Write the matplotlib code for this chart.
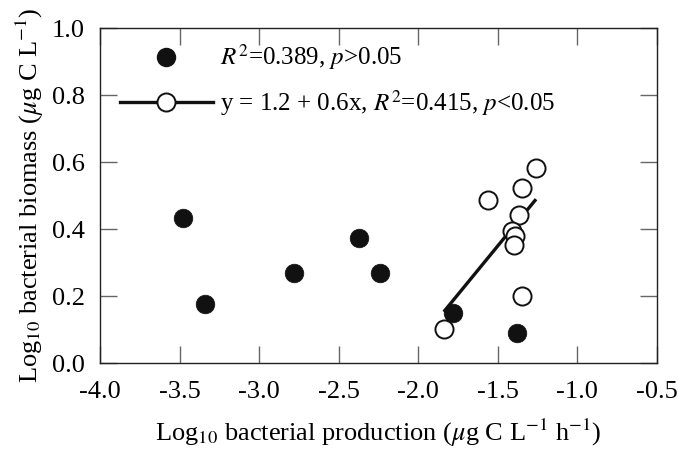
import numpy as np
import matplotlib
matplotlib.use("Agg")
import matplotlib.pyplot as plt
from matplotlib.lines import Line2D

plt.rcParams['font.family'] = ['Liberation Serif', 'DejaVu Serif']
plt.rcParams['mathtext.fontset'] = 'stix'

# filled circles (no significant relationship)
filled_x = [-3.48, -3.34, -2.78, -2.37, -2.24, -1.78, -1.38]
filled_y = [0.434, 0.177, 0.269, 0.372, 0.269, 0.148, 0.090]

# open circles (significant relationship)
open_x = [-1.26, -1.35, -1.56, -1.37, -1.41, -1.39, -1.40, -1.35, -1.84]
open_y = [0.583, 0.524, 0.487, 0.442, 0.395, 0.380, 0.352, 0.201, 0.101]

# regression drawn over the open-circle range
fit_intercept = 1.22
fit_slope = 0.58

label_filled = r'$R^2$=0.389, $p$>0.05'
label_open = r'y = 1.2 + 0.6x, $R^2$=0.415, $p$<0.05'

fig = plt.figure(figsize=(6.78, 4.54), dpi=100)
ax = fig.add_axes([0.1475, 0.2004, 0.8215, 0.7376])

fx = np.array([min(open_x), max(open_x)])
ax.plot(fx, fit_intercept + fit_slope * fx, color='#111111', lw=2.4,
        solid_capstyle='butt', zorder=2)

ax.scatter(filled_x, filled_y, s=180, c='#111111', edgecolors='#111111',
           linewidths=0.5, zorder=3)
ax.scatter(open_x, open_y, s=170, facecolors='white', edgecolors='#111111',
           linewidths=1.4, zorder=4)

ax.set_xlim(-4.0, -0.5)
ax.set_ylim(0.0, 1.0)
ax.set_xticks(np.arange(-4.0, -0.49, 0.5))
ax.set_yticks(np.arange(0.0, 1.01, 0.2))
ax.set_xticklabels([f'{v:.1f}' for v in np.arange(-4.0, -0.49, 0.5)])
ax.set_yticklabels([f'{v:.1f}' for v in np.arange(0.0, 1.01, 0.2)])

ax.tick_params(direction='in', length=12, width=1.0, color='0.4',
               top=True, right=True, labelsize=19)
ax.tick_params(axis='x', pad=13)
ax.tick_params(axis='y', pad=11)
for sp in ax.spines.values():
    sp.set_linewidth(1.0)
    sp.set_color('#222222')

ax.set_xlabel(r'Log$_{10}$ bacterial production ($\mu$g C L$^{-1}$ h$^{-1}$)',
              fontsize=19, labelpad=10)
ax.set_ylabel(r'Log$_{10}$ bacterial biomass ($\mu$g C L$^{-1}$)',
              fontsize=19, labelpad=4)

h_filled = Line2D([], [], ls='none', marker='o', ms=13, mfc='#111111',
                  mec='#111111')
h_open = Line2D([], [], color='#111111', lw=2.4, marker='o', ms=13,
                mfc='white', mec='#111111', mew=1.4)
ax.legend([h_filled, h_open], [label_filled, label_open], loc='upper left',
          bbox_to_anchor=(0.036, 0.957), frameon=False, fontsize=18,
          handlelength=3.7, handletextpad=0.28, labelspacing=0.62,
          borderpad=0, borderaxespad=0)

fig.savefig('out.png', dpi=100)
